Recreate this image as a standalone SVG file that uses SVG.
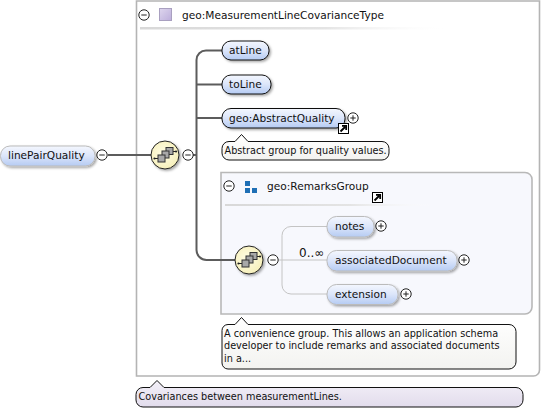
<svg xmlns="http://www.w3.org/2000/svg" width="542" height="410" viewBox="0 0 542 410">
<defs>
<linearGradient id="nodeFill" x1="0" y1="0" x2="0" y2="1"><stop offset="0" stop-color="#f4f7fe"/><stop offset="0.5" stop-color="#dbe5fa"/><stop offset="1" stop-color="#b5cbf3"/></linearGradient>
<linearGradient id="fade" x1="0" y1="0" x2="1" y2="0"><stop offset="0" stop-color="#d8d8d8"/><stop offset="0.6" stop-color="#e4e4e4"/><stop offset="1" stop-color="#ffffff" stop-opacity="0"/></linearGradient>
<linearGradient id="lav" x1="0" y1="0" x2="0" y2="1"><stop offset="0" stop-color="#f3f0f8"/><stop offset="1" stop-color="#e2dcec"/></linearGradient>
<linearGradient id="note" x1="0" y1="0" x2="0" y2="1"><stop offset="0" stop-color="#ffffff"/><stop offset="1" stop-color="#f3f3f0"/></linearGradient>
<linearGradient id="sq" x1="0" y1="0" x2="1" y2="1"><stop offset="0" stop-color="#ded6ee"/><stop offset="1" stop-color="#bcaedb"/></linearGradient>
<radialGradient id="seq" cx="0.45" cy="0.45" r="0.6"><stop offset="0" stop-color="#fffde6"/><stop offset="1" stop-color="#f6efb8"/></radialGradient>
<filter id="sh" x="-20%" y="-20%" width="150%" height="160%"><feDropShadow dx="1.500" dy="1.500" stdDeviation="1.200" flood-color="#000" flood-opacity="0.350"/></filter>
<g id="minus"><circle r="5.200" fill="#fff" stroke="#222" stroke-width="1"/><path d="M-2.700 0H2.700" stroke="#222" stroke-width="1"/></g>
<g id="plus"><circle r="5.200" fill="#fff" stroke="#222" stroke-width="1"/><path d="M-2.700 0H2.700M0 -2.700V2.700" stroke="#222" stroke-width="1"/></g>
<g id="link"><rect x="0.500" y="0.500" width="10" height="10" fill="#fff" stroke="#000"/><path d="M2.500 8.500L7 4M4 2.800H8.200V7" fill="none" stroke="#000" stroke-width="1.800"/></g>
<g id="seqicon">
<circle r="14" fill="url(#seq)" stroke="#222" stroke-width="1" filter="url(#sh)"/>
<path d="M-10.500 3.500H-7M8 -3.500H11" stroke="#222" stroke-width="1"/>
<circle cx="-10.500" cy="3.500" r="1.100" fill="#222"/><circle cx="11" cy="-3.500" r="1.100" fill="#222"/>
<rect x="1" y="-7.500" width="7" height="7" fill="#a8a8a8" stroke="#333" stroke-width="1"/>
<rect x="-3" y="-4" width="7" height="7" fill="#a8a8a8" stroke="#333" stroke-width="1"/>
<rect x="-7" y="0" width="7" height="7" fill="#a8a8a8" stroke="#333" stroke-width="1"/>
</g>
</defs>
<style>
text{font-family:"DejaVu Sans","Liberation Sans",sans-serif;font-size:10.6px;fill:#111}
.el{fill:url(#nodeFill);stroke:#111;stroke-width:1;filter:url(#sh)}
.elg{fill:url(#nodeFill);stroke:#bbb;stroke-width:1;filter:url(#sh)}
.cm{fill:url(#note);stroke:#111;stroke-width:1}
.cl{font-size:9.700px}
.inf{font-size:12px}
.heavy{fill:none;stroke:#5c5c5c;stroke-width:2}
.light{fill:none;stroke:#c4c4c4;stroke-width:1}
</style>

<g id="typeBox">
<path d="M136.500 1H539.500V370a6 6 0 0 1-6 6H136.500Z" fill="#fff" stroke="#b4b4b4" stroke-width="1.600"/>
<rect x="140" y="27" width="310" height="2.500" fill="url(#fade)"/>
<use href="#minus" x="144" y="15"/>
<rect x="159.500" y="8.500" width="12" height="12" fill="url(#sq)" stroke="#a9a0c0"/>
<text x="182" y="19">geo:MeasurementLineCovarianceType</text>
</g>

<g id="groupBox">
<path d="M221 172.500H525a7 7 0 0 1 7 7V307a7 7 0 0 1-7 7H221Z" fill="#f7f8fd" stroke="#b8b8b8" stroke-width="1.600"/>
<rect x="225" y="204" width="210" height="2" fill="url(#fade)"/>
<use href="#minus" x="229" y="186"/>
<path d="M245 181h5v5h-5zM245 188h5v5h-5zM252 188h5v5h-5z" fill="#1f6fb5"/>
<text x="267" y="190">geo:RemarksGroup</text>
<use href="#link" x="372" y="192"/>
</g>

<g id="connectors">
<path class="heavy" d="M108 155H151"/>
<path class="heavy" d="M193 155H196.500"/>
<path class="heavy" d="M222 50.500H206a9.500 9.500 0 0 0-9.500 9.500V250a10 10 0 0 0 10 10H235"/>
<path class="heavy" d="M196.500 84.500H222M196.500 118H222"/>
<path class="light" d="M278 260H327M327 226.500H291a9 9 0 0 0-9 9V285a9 9 0 0 0 9 9H327"/>
</g>

<g id="linePairQuality">
<rect class="elg" x="0.500" y="146" width="94.500" height="20" rx="9.500"/>
<text x="8" y="159">linePairQuality</text>
<use href="#minus" x="102" y="155"/>
</g>

<g id="sequence1"><use href="#seqicon" x="165" y="155"/><use href="#minus" x="188" y="155"/></g>

<g id="atLine"><rect class="el" x="222" y="41" width="47" height="19" rx="9"/><text x="229" y="54">atLine</text></g>
<g id="toLine"><rect class="el" x="222" y="75" width="49" height="19" rx="9"/><text x="229" y="88">toLine</text></g>
<g id="abstractQuality">
<rect class="el" x="222" y="108.500" width="123" height="19.500" rx="9"/>
<text x="229" y="122">geo:AbstractQuality</text>
<use href="#link" x="338" y="123"/>
<use href="#plus" x="353" y="118"/>
</g>
<g id="abstractNote">
<path class="cm" d="M229 141.500H235L241.500 134.500L248 141.500H382a7 7 0 0 1 7 7V153a7 7 0 0 1-7 7H229a7 7 0 0 1-7-7V148.500a7 7 0 0 1 7-7Z"/>
<text class="cl" x="224.500" y="154">Abstract group for quality values.</text>
</g>

<g id="sequence2"><use href="#seqicon" x="249" y="260"/><use href="#minus" x="273" y="260"/></g>
<text class="inf" x="299" y="257">0..∞</text>

<g id="notes"><rect class="elg" x="327" y="216.500" width="47" height="20.500" rx="9.500"/><text x="335" y="230">notes</text><use href="#plus" x="381" y="226"/></g>
<g id="associatedDocument"><rect class="elg" x="327" y="250.500" width="130" height="20.500" rx="9.500"/><text x="335" y="264">associatedDocument</text><use href="#plus" x="464" y="260"/></g>
<g id="extension"><rect class="elg" x="327" y="284.500" width="71" height="20" rx="9.500"/><text x="335" y="298">extension</text><use href="#plus" x="406" y="294"/></g>

<g id="remarksNote">
<path class="cm" d="M228 324.500H235L241.500 317.500L248 324.500H509a7 7 0 0 1 7 7V362a7 7 0 0 1-7 7H228a6 6 0 0 1-6-6V330.500a6 6 0 0 1 6-6Z"/>
<text class="cl" x="224" y="337">A convenience group. This allows an application schema</text>
<text class="cl" x="224" y="349">developer to include remarks and associated documents</text>
<text class="cl" x="224" y="362">in a...</text>
</g>

<g id="typeNote">
<path d="M143 387.500H150L157 380.500L164 387.500H516a7 7 0 0 1 7 7V400a7 7 0 0 1-7 7H143a7 7 0 0 1-7-7V394.500a7 7 0 0 1 7-7Z" fill="url(#lav)" stroke="#111"/>
<text class="cl" x="138.500" y="400">Covariances between measurementLines.</text>
</g>
</svg>
